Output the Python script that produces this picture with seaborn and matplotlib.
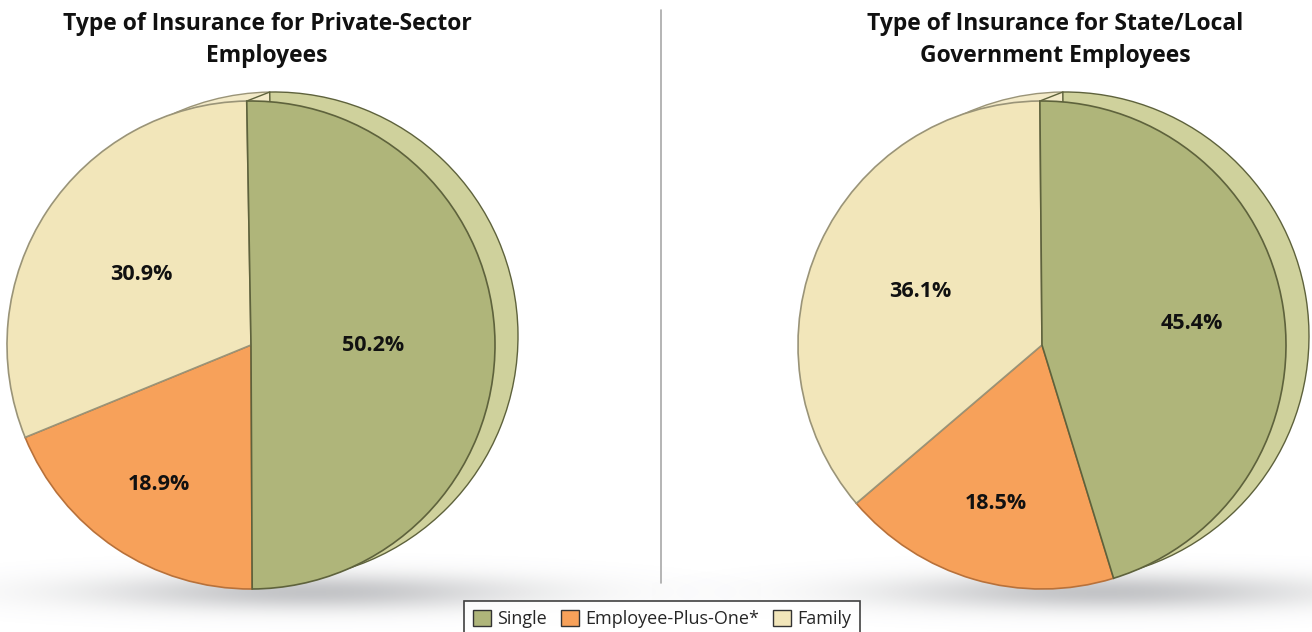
import numpy as np
import matplotlib
matplotlib.use("Agg")
import matplotlib.pyplot as plt
import seaborn as sns
from matplotlib.patches import Patch

# Shares of enrollees by type of coverage (percent)
categories = ["Single", "Employee-Plus-One*", "Family"]
private_sector = [50.2, 18.9, 30.9]
state_local = [45.4, 18.5, 36.1]
titles = [
    "Type of Insurance for Private-Sector\nEmployees",
    "Type of Insurance for State/Local\nGovernment Employees",
]

sns.set_theme(style="white")
plt.rcParams["font.family"] = ["Open Sans", "DejaVu Sans"]

face_colors = ["#AFB57A", "#F7A15A", "#F2E6BA"]
rim_colors = ["#CFD19C", "#F8C08E", "#F3EAC8"]
edge_colors = ["#5E623C", "#B8713A", "#9A9478"]

W, H = 1312, 632
fig = plt.figure(figsize=(W / 100, H / 100), dpi=100)
ax = fig.add_axes([0, 0, 1, 1])

radius = 244
rim_offset = (23, 9)
pie_centers = [(251, 287), (1042, 287)]
start_angles = [91, 90.5]
label_radius = [[0.50, 0.68, 0.54], [0.62, 0.67, 0.55]]
title_x = [267, 1055]


def soft_shadow(ax, cx, cy, sx, sy, zorder):
    xs = np.linspace(-3 * sx, 3 * sx, 400)
    ys = np.linspace(-3 * sy, 3 * sy, 120)
    gx, gy = np.meshgrid(xs, ys)
    a = np.exp(-0.5 * ((gx / sx) ** 2 + (gy / sy) ** 2)) * 0.45
    img = np.zeros((len(ys), len(xs), 4))
    img[..., 0] = 0.48
    img[..., 1] = 0.49
    img[..., 2] = 0.51
    img[..., 3] = a
    ax.imshow(img, extent=(cx - 3 * sx, cx + 3 * sx, cy - 3 * sy, cy + 3 * sy),
              origin="lower", interpolation="bilinear", zorder=zorder, aspect="auto")


for i, values in enumerate([private_sector, state_local]):
    cx, cy = pie_centers[i]
    soft_shadow(ax, cx + 60, cy - 247, 150, 13, zorder=0)

    # back face of the tilted disc (visible rim)
    back, _ = ax.pie(values, colors=rim_colors, startangle=start_angles[i],
                     counterclock=False, radius=radius,
                     center=(cx + rim_offset[0], cy + rim_offset[1]),
                     wedgeprops=dict(linewidth=1.0, edgecolor=edge_colors[0]),
                     frame=True)
    for w, ec in zip(back, edge_colors):
        w.set_zorder(1)
        w.set_edgecolor(ec if ec != edge_colors[1] else edge_colors[0])
    back[0].set_zorder(1.5)

    # front face
    front, _ = ax.pie(values, colors=face_colors, startangle=start_angles[i],
                      counterclock=False, radius=radius, center=(cx, cy),
                      wedgeprops=dict(linewidth=1.2), frame=True)
    for w, ec in zip(front, edge_colors):
        w.set_edgecolor(ec)
        w.set_zorder(2)
    front[0].set_zorder(2.5)

    # side edge joining the two faces at the first wedge boundary
    t = np.deg2rad(front[0].theta2)
    p0 = (cx + radius * np.cos(t), cy + radius * np.sin(t))
    p1 = (p0[0] + rim_offset[0], p0[1] + rim_offset[1])
    ax.plot([p0[0], p1[0]], [p0[1], p1[1]], color=edge_colors[0], lw=1.0, zorder=1.8)

    # percentage labels
    for w, v, d in zip(front, values, label_radius[i]):
        mid = np.deg2rad(0.5 * (w.theta1 + w.theta2))
        ax.text(cx + d * radius * np.cos(mid), cy + d * radius * np.sin(mid) - 2,
                f"{v:.1f}%", ha="center", va="center", fontsize=15.5,
                fontweight="bold", color="#111111", zorder=5)

    ax.text(title_x[i], H - 12, titles[i], ha="center", va="top", fontsize=16.5,
            fontweight="bold", color="#111111", linespacing=1.45, zorder=5)

# divider between the two charts
ax.plot([661, 661], [49, 622], color="#A8A8A8", lw=1.2, zorder=0)

ax.set_xlim(0, W)
ax.set_ylim(0, H)
ax.set_aspect("equal")
ax.axis("off")

handles = [Patch(facecolor=c, edgecolor="#333333", linewidth=1.0) for c in face_colors]
leg = fig.legend(handles, categories, loc="upper center",
                 bbox_to_anchor=(662 / W, 1 - 601 / H), ncol=3, fontsize=13,
                 frameon=True, fancybox=False, edgecolor="#111111",
                 handlelength=1.0, handleheight=1.0, handletextpad=0.35,
                 columnspacing=0.75, borderpad=0.5, borderaxespad=0)
leg.get_frame().set_linewidth(1.2)

fig.savefig("out.png", dpi=100)
